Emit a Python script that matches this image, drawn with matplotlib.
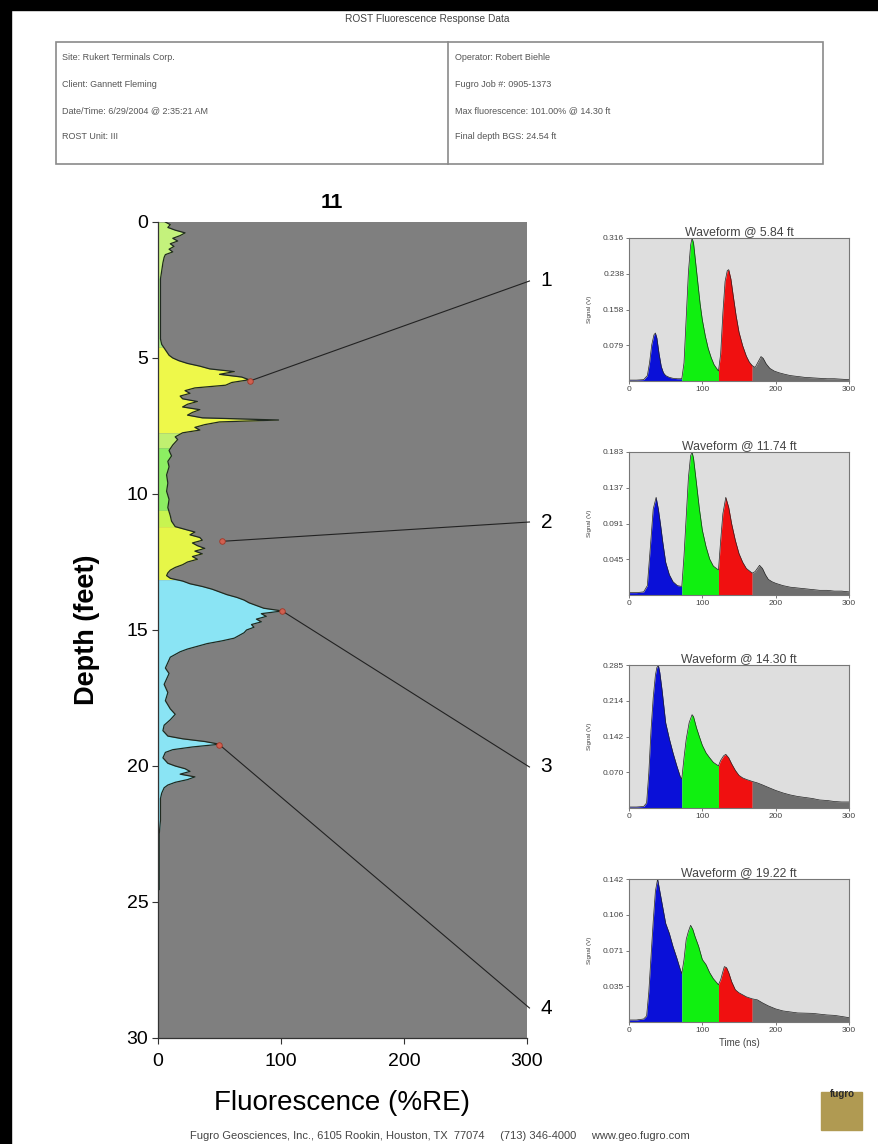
import matplotlib
matplotlib.use("Agg")
import matplotlib.pyplot as plt
from matplotlib.patches import Rectangle
import numpy as np

plt.rcParams['font.family'] = ['Liberation Sans', 'DejaVu Sans']

# --- header info ---
header_title = "ROST Fluorescence Response Data"
header_left = ["Site: Rukert Terminals Corp.", "Client: Gannett Fleming",
               "Date/Time: 6/29/2004 @ 2:35:21 AM", "ROST Unit: III"]
header_right = ["Operator: Robert Biehle", "Fugro Job #: 0905-1373",
                "Max fluorescence: 101.00% @ 14.30 ft", "Final depth BGS: 24.54 ft"]
log_name = "11"
footer = "Fugro Geosciences, Inc., 6105 Rookin, Houston, TX  77074     (713) 346-4000     www.geo.fugro.com"

# --- fluorescence log (depth in ft, %RE) ---
depth_ft = [0.0, 0.1, 0.2, 0.3, 0.4, 0.5, 0.6, 0.7, 0.8, 0.9,
            1.0, 1.1, 1.2, 1.3, 1.5, 1.8, 2.1, 2.5, 3.0, 3.5,
            4.0, 4.3, 4.5, 4.7, 4.9, 5.0, 5.1, 5.2, 5.3, 5.4,
            5.5, 5.6, 5.7, 5.8, 5.9, 6.0, 6.1, 6.2, 6.3, 6.4,
            6.5, 6.6, 6.7, 6.8, 6.9, 7.0, 7.1, 7.2, 7.28, 7.35,
            7.45, 7.55, 7.65, 7.75, 7.9, 8.0, 8.2, 8.4, 8.6, 8.8,
            9.0, 9.3, 9.6, 9.9, 10.2, 10.5, 10.8, 11.0, 11.2, 11.3,
            11.4, 11.5, 11.6, 11.7, 11.8, 11.9, 12.0, 12.1, 12.2, 12.3,
            12.4, 12.5, 12.6, 12.7, 12.8, 12.9, 13.0, 13.1, 13.2, 13.3,
            13.4, 13.5, 13.6, 13.7, 13.8, 13.9, 14.0, 14.1, 14.2, 14.3,
            14.4, 14.5, 14.6, 14.7, 14.8, 14.9, 15.0, 15.1, 15.2, 15.3,
            15.4, 15.5, 15.6, 15.7, 15.8, 15.9, 16.0, 16.2, 16.4, 16.6,
            16.8, 17.0, 17.3, 17.6, 17.9, 18.1, 18.3, 18.5, 18.7, 18.9,
            19.0, 19.1, 19.2, 19.3, 19.4, 19.5, 19.7, 19.9, 20.0, 20.1,
            20.2, 20.3, 20.4, 20.5, 20.6, 20.7, 20.8, 20.9, 21.0, 21.2,
            21.5, 22.0, 22.5, 23.0, 23.5, 24.0, 24.54]
fluor_pct = [6, 10, 8, 14, 22, 18, 12, 16, 10, 13,
             9, 12, 6, 5, 4, 3, 2, 2, 2, 2,
             2, 2, 3, 6, 9, 12, 17, 24, 34, 42,
             62, 50, 68, 74, 60, 55, 30, 22, 26, 18,
             20, 32, 24, 20, 34, 28, 24, 36, 98, 50,
             38, 30, 34, 20, 14, 16, 12, 9, 11, 8,
             9, 7, 8, 7, 9, 8, 10, 11, 14, 22,
             30, 26, 34, 36, 28, 32, 38, 30, 36, 28,
             32, 24, 20, 14, 10, 8, 7, 10, 20, 26,
             36, 44, 50, 56, 64, 70, 74, 80, 86, 101,
             84, 88, 80, 84, 76, 78, 72, 70, 66, 62,
             52, 40, 32, 24, 18, 14, 10, 8, 6, 9,
             7, 5, 8, 6, 10, 14, 10, 5, 4, 8,
             20, 38, 50, 28, 12, 6, 4, 8, 14, 22,
             26, 18, 30, 24, 14, 8, 5, 4, 3, 2,
             2, 2, 1, 1, 1, 1, 1]

# colour bands along the log (waveform-derived colour)
band_top = [0.0, 2.0, 4.6, 7.75, 8.3, 10.6, 11.2, 13.15]
band_bot = [2.0, 4.6, 7.75, 8.3, 10.6, 11.2, 13.15, 24.6]
band_color = ['#c4f27c', '#a8f080', '#eef84a', '#c0f070', '#8cee62', '#c8f450', '#e6f648', '#8ae4f4']

# selected waveforms
wf_depth = [5.84, 11.74, 14.30, 19.22]
wf_fluor = [75, 52, 101, 50]
wf_label = ["1", "2", "3", "4"]
wf_ymax = [0.316, 0.183, 0.285, 0.142]
wf_yticklabels = [["0.079", "0.158", "0.238", "0.316"],
                  ["0.045", "0.091", "0.137", "0.183"],
                  ["0.070", "0.142", "0.214", "0.285"],
                  ["0.035", "0.071", "0.106", "0.142"]]

t1 = [0, 10, 20, 25, 28, 31, 34, 36, 38, 41, 44, 47, 50, 55, 60, 66, 72, 75, 78, 81,
      84, 86, 88, 91, 94, 97, 100, 104, 108, 112, 116, 122, 125, 128, 131, 134, 136, 139, 142, 146,
      150, 155, 160, 164, 168, 172, 176, 180, 183, 187, 192, 198, 205, 212, 220, 230, 240, 250, 260, 270,
      280, 290, 300]
s1 = [0.002, 0.002, 0.003, 0.012, 0.04, 0.08, 0.102, 0.106, 0.095, 0.06, 0.032, 0.018, 0.012, 0.008, 0.006, 0.005, 0.005, 0.04, 0.14, 0.24,
      0.3, 0.316, 0.305, 0.26, 0.215, 0.17, 0.135, 0.1, 0.072, 0.052, 0.036, 0.022, 0.06, 0.15, 0.22, 0.244, 0.246, 0.225, 0.19, 0.145,
      0.108, 0.078, 0.055, 0.042, 0.034, 0.03, 0.042, 0.054, 0.05, 0.038, 0.028, 0.022, 0.018, 0.015, 0.012, 0.01, 0.008, 0.007, 0.006, 0.005,
      0.005, 0.004, 0.003]
t2 = [0, 10, 20, 25, 29, 33, 37, 40, 43, 46, 50, 55, 60, 66, 72, 75, 78, 81, 84, 86,
      88, 92, 96, 100, 105, 110, 115, 122, 125, 128, 132, 136, 140, 145, 150, 155, 160, 168, 172, 175,
      178, 182, 186, 190, 195, 200, 210, 220, 230, 240, 250, 260, 270, 280, 290, 300]
s2 = [0.003, 0.003, 0.004, 0.012, 0.06, 0.11, 0.125, 0.11, 0.09, 0.068, 0.042, 0.026, 0.017, 0.012, 0.011, 0.05, 0.1, 0.15, 0.178, 0.183,
      0.175, 0.143, 0.11, 0.083, 0.062, 0.046, 0.037, 0.032, 0.07, 0.104, 0.125, 0.112, 0.091, 0.07, 0.053, 0.042, 0.034, 0.028, 0.03, 0.034,
      0.038, 0.034, 0.026, 0.02, 0.017, 0.015, 0.012, 0.01, 0.009, 0.008, 0.007, 0.006, 0.006, 0.005, 0.005, 0.004]
t3 = [0, 10, 20, 24, 27, 30, 33, 36, 38, 40, 42, 45, 50, 55, 60, 65, 70, 72, 75, 78,
      82, 86, 88, 92, 96, 100, 105, 110, 115, 122, 125, 129, 132, 136, 140, 145, 150, 155, 160, 168,
      175, 182, 190, 200, 210, 220, 230, 240, 250, 260, 270, 280, 290, 300]
s3 = [0.002, 0.002, 0.003, 0.01, 0.07, 0.155, 0.22, 0.265, 0.28, 0.285, 0.27, 0.236, 0.17, 0.138, 0.11, 0.085, 0.062, 0.058, 0.1, 0.137,
      0.17, 0.186, 0.182, 0.16, 0.142, 0.125, 0.11, 0.1, 0.091, 0.084, 0.095, 0.104, 0.107, 0.1, 0.088, 0.075, 0.065, 0.06, 0.057, 0.053,
      0.05, 0.046, 0.041, 0.035, 0.03, 0.026, 0.023, 0.021, 0.019, 0.016, 0.015, 0.013, 0.012, 0.012]
t4 = [0, 10, 20, 24, 27, 30, 33, 36, 39, 42, 45, 50, 55, 60, 65, 70, 72, 75, 78, 81,
      84, 87, 90, 95, 100, 105, 110, 115, 122, 125, 128, 130, 133, 136, 140, 145, 150, 155, 160, 168,
      175, 182, 190, 200, 210, 220, 230, 240, 250, 260, 270, 280, 290, 300]
s4 = [0.002, 0.002, 0.003, 0.006, 0.03, 0.065, 0.1, 0.13, 0.142, 0.13, 0.118, 0.098, 0.088, 0.075, 0.064, 0.052, 0.048, 0.062, 0.082, 0.09,
      0.096, 0.092, 0.085, 0.075, 0.062, 0.057, 0.049, 0.043, 0.037, 0.042, 0.05, 0.055, 0.054, 0.049, 0.04, 0.032, 0.029, 0.027, 0.025, 0.023,
      0.022, 0.019, 0.016, 0.013, 0.011, 0.01, 0.009, 0.0088, 0.0086, 0.0078, 0.007, 0.0066, 0.0055, 0.0043]
wf_time = [t1, t2, t3, t4]
wf_signal = [s1, s2, s3, s4]
ch_edges = [0, 72, 122, 168, 300]
ch_colors = ['#0a10d8', '#10f010', '#f01010', '#6e6e6e']

W, H = 879, 1144
fig = plt.figure(figsize=(W / 100, H / 100), dpi=100)
fig.patch.set_facecolor('white')

def fx(px):
    return px / W

def fy(py):
    return 1 - py / H

# black scan borders
fig.add_artist(Rectangle((0, fy(10)), 1, 10 / H, transform=fig.transFigure, color='black', zorder=0))
fig.add_artist(Rectangle((0, 0), fx(11), 1, transform=fig.transFigure, color='black', zorder=0))

# header
fig.text(fx(427), fy(19), header_title, ha='center', va='center', fontsize=7.3, color='#444444')
fig.add_artist(Rectangle((fx(56), fy(164)), fx(823) - fx(56), fy(42) - fy(164), transform=fig.transFigure,
                         fill=False, edgecolor='#8a8a8a', lw=1.2))
fig.add_artist(plt.Line2D([fx(448), fx(448)], [fy(42), fy(164)], transform=fig.transFigure, color='#8a8a8a', lw=1.2))
for i, (l, r) in enumerate(zip(header_left, header_right)):
    yy = fy(58 + i * 26.3)
    fig.text(fx(62), yy, l, ha='left', va='center', fontsize=6.5, color='#555555')
    fig.text(fx(455), yy, r, ha='left', va='center', fontsize=6.5, color='#555555')

# main log
ax = fig.add_axes([fx(158), fy(1038), fx(527) - fx(158), fy(222) - fy(1038)])
ax.set_facecolor('#7f7f7f')
d = np.array(depth_ft, dtype=float)
v = np.array(fluor_pct, dtype=float)
# add band boundaries to the profile so neighbouring colour bands meet
edges = [e for e in band_top + band_bot if d[0] <= e <= d[-1]]
dd = np.union1d(d, edges)
vv = np.interp(dd, d, v)
for top, bot, c in zip(band_top, band_bot, band_color):
    m = (dd >= top) & (dd <= bot)
    ax.fill_betweenx(dd, 0, vv, where=m, color=c, lw=0)
ax.plot(v, d, color='#202a20', lw=0.9)
ax.set_xlim(0, 300)
ax.set_ylim(30, 0)
ax.set_xticks([0, 100, 200, 300])
ax.set_yticks([0, 5, 10, 15, 20, 25, 30])
ax.tick_params(labelsize=14, length=4, width=0.8, color='#333333', pad=3)
ax.tick_params(axis='x', pad=7)
for s in ['top', 'right']:
    ax.spines[s].set_visible(False)
for s in ['left', 'bottom']:
    ax.spines[s].set_color('#333333')
    ax.spines[s].set_linewidth(0.9)
ax.set_xlabel("Fluorescence (%RE)", fontsize=20, labelpad=14)
ax.set_ylabel("Depth (feet)", fontsize=19.5, fontweight='bold', labelpad=19)
ax.set_title(log_name, fontsize=15, fontweight='bold', pad=10, x=0.47)

# callout lines to waveforms
label_y_px = [281, 522, 767, 1008]
for dep, fl, lab, ly in zip(wf_depth, wf_fluor, wf_label, label_y_px):
    end_d = (ly - 222) / 27.2
    ax.plot([fl, 302], [dep, end_d], color='#222222', lw=0.8, clip_on=False)
    ax.plot([fl], [dep], marker='o', ms=4, mfc='#d06050', mec='#a03828', mew=0.6)
    ax.text(311, end_d, lab, fontsize=15, ha='left', va='center', clip_on=False)

# waveform panels
tops = [238, 452, 665, 879]
for k in range(4):
    wa = fig.add_axes([fx(629), fy(tops[k] + 143), fx(849) - fx(629), 143 / H])
    wa.set_facecolor('#dedede')
    t = np.array(wf_time[k])
    s = np.array(wf_signal[k])
    for j in range(4):
        m = (t >= ch_edges[j]) & (t <= ch_edges[j + 1])
        wa.fill_between(t, 0, s, where=m, color=ch_colors[j], lw=0)
    wa.plot(t, s, color='#222222', lw=0.5)
    wa.set_xlim(0, 300)
    wa.set_ylim(0, wf_ymax[k])
    wa.set_xticks([0, 100, 200, 300])
    yt = [wf_ymax[k] * q for q in (0.25, 0.5, 0.75, 1.0)]
    wa.set_yticks(yt)
    wa.set_yticklabels(wf_yticklabels[k])
    wa.tick_params(labelsize=6, length=2, width=0.5, pad=1.5, colors='#444444')
    for sp in wa.spines.values():
        sp.set_color('#777777')
        sp.set_linewidth(0.8)
    wa.set_title("Waveform @ %.2f ft" % wf_depth[k], fontsize=8.8, color='#444444', pad=2)
    wa.set_ylabel("Signal (V)", fontsize=4.5, color='#444444', labelpad=8)
    if k == 3:
        wa.set_xlabel("Time (ns)", fontsize=7, color='#444444', labelpad=3)

# footer and logo
fig.text(fx(440), fy(1136), footer, ha='center', va='center', fontsize=8, color='#444444')
fig.add_artist(Rectangle((fx(821), fy(1130)), fx(41), 38 / H, transform=fig.transFigure,
                         color='#b09a52', zorder=2))
fig.text(fx(842), fy(1094), "fugro", ha='center', va='center', fontsize=7, fontweight='bold',
         color='#2a2a2a', zorder=3)

fig.savefig("out.png", dpi=100)
